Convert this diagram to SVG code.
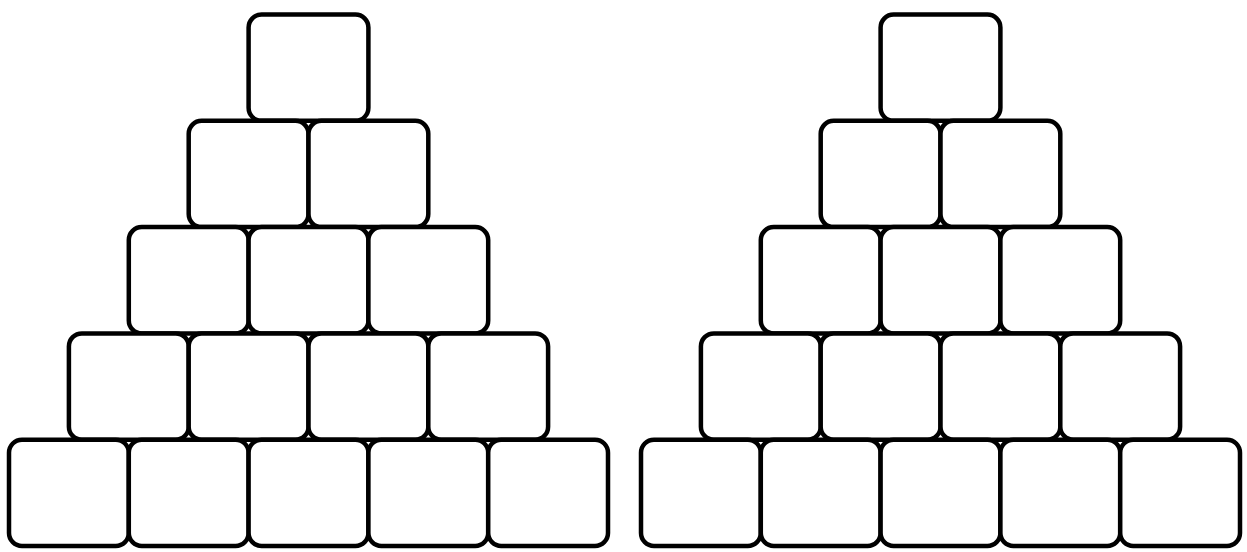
<svg xmlns="http://www.w3.org/2000/svg" width="1247" height="552" viewBox="0 0 1247 552">
<style>
.b{fill:#fff;stroke:#000;stroke-width:4.5;}
</style>
<defs>
<rect id="box" class="b" width="119.8" height="106.3" rx="13" ry="13"/>
</defs>
<rect width="1247" height="552" fill="#fff"/>
<g id="pyramid-left">
<g id="L0-0"><use href="#box" x="248.6" y="14.5"/></g>
<g id="L1-0"><use href="#box" x="188.7" y="120.8"/></g>
<g id="L1-1"><use href="#box" x="308.5" y="120.8"/></g>
<g id="L2-0"><use href="#box" x="128.8" y="227.1"/></g>
<g id="L2-1"><use href="#box" x="248.6" y="227.1"/></g>
<g id="L2-2"><use href="#box" x="368.4" y="227.1"/></g>
<g id="L3-0"><use href="#box" x="68.9" y="333.4"/></g>
<g id="L3-1"><use href="#box" x="188.7" y="333.4"/></g>
<g id="L3-2"><use href="#box" x="308.5" y="333.4"/></g>
<g id="L3-3"><use href="#box" x="428.3" y="333.4"/></g>
<g id="L4-0"><use href="#box" x="9" y="439.7"/></g>
<g id="L4-1"><use href="#box" x="128.8" y="439.7"/></g>
<g id="L4-2"><use href="#box" x="248.6" y="439.7"/></g>
<g id="L4-3"><use href="#box" x="368.4" y="439.7"/></g>
<g id="L4-4"><use href="#box" x="488.2" y="439.7"/></g>
</g>
<g id="pyramid-right">
<g id="R0-0"><use href="#box" x="880.6" y="14.5"/></g>
<g id="R1-0"><use href="#box" x="820.7" y="120.8"/></g>
<g id="R1-1"><use href="#box" x="940.5" y="120.8"/></g>
<g id="R2-0"><use href="#box" x="760.8" y="227.1"/></g>
<g id="R2-1"><use href="#box" x="880.6" y="227.1"/></g>
<g id="R2-2"><use href="#box" x="1000.4" y="227.1"/></g>
<g id="R3-0"><use href="#box" x="700.9" y="333.4"/></g>
<g id="R3-1"><use href="#box" x="820.7" y="333.4"/></g>
<g id="R3-2"><use href="#box" x="940.5" y="333.4"/></g>
<g id="R3-3"><use href="#box" x="1060.3" y="333.4"/></g>
<g id="R4-0"><use href="#box" x="641" y="439.7"/></g>
<g id="R4-1"><use href="#box" x="760.8" y="439.7"/></g>
<g id="R4-2"><use href="#box" x="880.6" y="439.7"/></g>
<g id="R4-3"><use href="#box" x="1000.4" y="439.7"/></g>
<g id="R4-4"><use href="#box" x="1120.2" y="439.7"/></g>
</g>
<g id="connectors"></g>
</svg>
